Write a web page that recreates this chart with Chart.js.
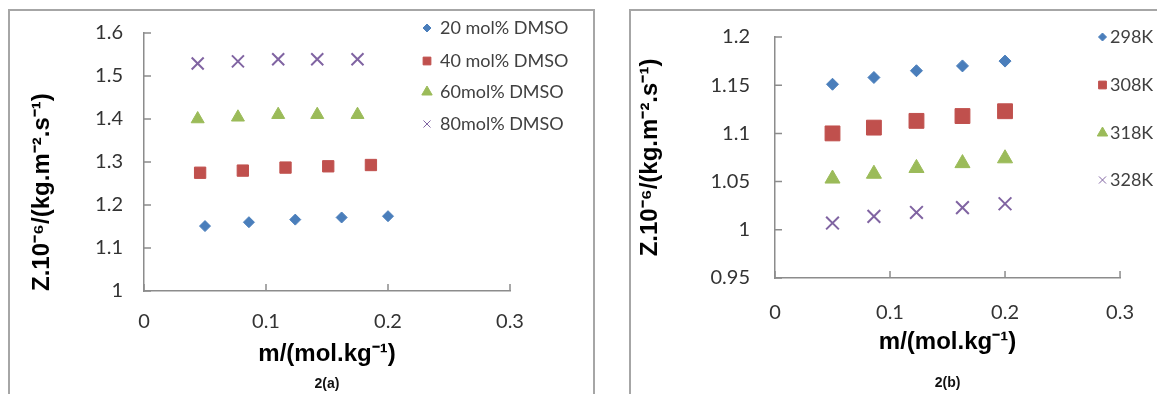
<!DOCTYPE html>
<html>
<head>
<meta charset="utf-8">
<script src="https://cdn.jsdelivr.net/npm/chart.js@4.4.1/dist/chart.umd.min.js"></script>
<style>
  html, body { margin: 0; padding: 0; background: #fff; overflow: hidden; }
  body { width: 1157px; height: 394px; position: relative; }
  .frame { position: absolute; border: 2px solid #a6a6a6; box-sizing: border-box; }
  #frameA { left: 8px; top: 9px; width: 587px; height: 420px; }
  #frameB { left: 629px; top: 9px; width: 560px; height: 420px; }
  canvas { position: absolute; top: 0; }
  #chartA { left: 0; }
  #chartB { left: 600px; }
</style>
</head>
<body>
<div class="frame" id="frameA"></div>
<div class="frame" id="frameB"></div>
<canvas id="chartA" width="600" height="394"></canvas>
<canvas id="chartB" width="557" height="394"></canvas>
<script>
// tick labels
const xTicks = [0, 0.1, 0.2, 0.3];
const yTicksA = [1, 1.1, 1.2, 1.3, 1.4, 1.5, 1.6];
const yTicksB = [0.95, 1, 1.05, 1.1, 1.15, 1.2];

// 2(a): solvent composition series
const seriesA = ['20 mol% DMSO', '40 mol% DMSO', '60mol% DMSO', '80mol% DMSO'];
const x20 = [0.050, 0.086, 0.124, 0.162, 0.200];
const y20 = [1.151, 1.160, 1.166, 1.171, 1.174];
const x40 = [0.046, 0.081, 0.116, 0.151, 0.186];
const y40 = [1.275, 1.280, 1.287, 1.290, 1.293];
const x60 = [0.044, 0.077, 0.110, 0.142, 0.175];
const y60 = [1.400, 1.404, 1.410, 1.410, 1.410];
const x80 = [0.044, 0.077, 0.110, 0.142, 0.175];
const y80 = [1.529, 1.534, 1.539, 1.539, 1.539];

// 2(b): temperature series
const seriesB = ['298K', '308K', '318K', '328K'];
const xB = [0.050, 0.086, 0.123, 0.163, 0.200];
const y298 = [1.151, 1.158, 1.165, 1.170, 1.175];
const y308 = [1.100, 1.106, 1.113, 1.118, 1.123];
const y318 = [1.053, 1.058, 1.064, 1.069, 1.074];
const y328 = [1.007, 1.014, 1.018, 1.023, 1.027];

const colors = ['#4a7ebb', '#c0504d', '#9bbb59', '#8064a2'];
const shapes = ['rectRot', 'rect', 'triangle', 'crossRot'];
const axisColor = '#8c8c8c';
const tickColor = '#333333';
const tickFont = { family: 'Lato, "Open Sans", sans-serif', size: 20 };
const titleFont = { family: '"Liberation Sans", Arial, sans-serif', size: 24, weight: 'bold' };
const capFont = { family: '"Liberation Sans", Arial, sans-serif', size: 14, weight: 'bold' };

// excel drops trailing zeros: 1, 1.1, 0.95
const fmt = v => String(Number(v.toFixed(2)));

function pts(xs, ys) {
  return xs.map((x, i) => ({ x: x, y: ys[i] }));
}

function makeSets(names, xs, ys, radii) {
  return names.map((name, i) => ({
    label: name,
    data: pts(xs[i], ys[i]),
    pointStyle: shapes[i],
    pointRadius: radii[i],
    pointHoverRadius: radii[i],
    backgroundColor: colors[i],
    borderColor: colors[i],
    borderWidth: shapes[i] === 'crossRot' ? 2 : 1,
    showLine: false
  }));
}

// excel style tick marks pointing into the plot
const innerTicks = {
  id: 'innerTicks',
  beforeDatasetsDraw(chart) {
    const { ctx, chartArea: a, scales: { x, y } } = chart;
    ctx.save();
    ctx.strokeStyle = axisColor;
    ctx.lineWidth = 1.5;
    ctx.beginPath();
    y.ticks.forEach(t => {
      const p = y.getPixelForValue(t.value);
      ctx.moveTo(a.left, p);
      ctx.lineTo(a.left + 7, p);
    });
    x.ticks.forEach(t => {
      const p = x.getPixelForValue(t.value);
      ctx.moveTo(p, a.bottom);
      ctx.lineTo(p, a.bottom - 7);
    });
    ctx.stroke();
    ctx.restore();
  }
};

// legend sitting over the top right of the plot
const sideLegend = {
  id: 'sideLegend',
  afterDraw(chart, args, opts) {
    const ctx = chart.ctx;
    ctx.save();
    ctx.textBaseline = 'middle';
    ctx.textAlign = 'left';
    ctx.font = '18px Lato, "Open Sans", sans-serif';
    chart.data.datasets.forEach((ds, i) => {
      const y = opts.rows[i];
      ctx.fillStyle = ds.backgroundColor;
      ctx.strokeStyle = ds.borderColor;
      ctx.lineWidth = 1;
      Chart.helpers.drawPoint(ctx, { pointStyle: ds.pointStyle, radius: opts.radius[i], borderWidth: 1, rotation: 0 }, opts.markX, y);
      ctx.fillStyle = '#404040';
      ctx.fillText(ds.label, opts.textX, y);
    });
    ctx.restore();
  }
};

function makeChart(id, cfg) {
  return new Chart(document.getElementById(id), {
    type: 'scatter',
    data: { datasets: cfg.datasets },
    options: {
      responsive: false,
      animation: false,
      events: [],
      layout: { padding: cfg.padding },
      plugins: {
        legend: { display: false },
        tooltip: { enabled: false },
        title: { display: true, fullSize: false, position: 'bottom', text: cfg.caption, font: capFont, color: '#111', padding: 0 },
        sideLegend: cfg.legend
      },
      scales: {
        x: {
          type: 'linear',
          min: 0, max: 0.3,
          afterBuildTicks: s => { s.ticks = xTicks.map(v => ({ value: v })); },
          afterFit: s => { s.height = cfg.xHeight; },
          grid: { display: true, drawOnChartArea: false, drawTicks: false },
          border: { color: axisColor, width: 1.5 },
          ticks: { font: tickFont, color: tickColor, padding: cfg.xPad, maxRotation: 0, callback: fmt },
          title: { display: true, text: 'm/(mol.kg⁻¹)', font: titleFont, color: '#000', padding: { top: 0, bottom: cfg.xTitlePad } }
        },
        y: {
          type: 'linear',
          min: cfg.yTicks[0], max: cfg.yTicks[cfg.yTicks.length - 1],
          afterBuildTicks: s => { s.ticks = cfg.yTicks.map(v => ({ value: v })); },
          afterFit: s => { s.width = cfg.yWidth; },
          grid: { display: true, drawOnChartArea: false, drawTicks: false },
          border: { color: axisColor, width: 1.5 },
          ticks: { font: tickFont, color: tickColor, padding: cfg.yPad, callback: fmt },
          title: { display: true, text: 'Z.10⁻⁶/(kg.m⁻².s⁻¹)', align: cfg.yAlign, font: titleFont, color: '#000', padding: { top: cfg.yTitlePad, bottom: 0 } }
        }
      }
    },
    plugins: [innerTicks, sideLegend]
  });
}

makeChart('chartA', {
  datasets: makeSets(seriesA, [x20, x40, x60, x80], [y20, y40, y60, y80], [5.5, 8, 7.5, 8.5]),
  yTicks: yTicksA,
  padding: { left: 0, right: 90, top: 32, bottom: 1.6 },
  xHeight: 84.6, xPad: 19, xTitlePad: 7.2,
  yWidth: 144, yPad: 21, yTitlePad: 27.6, yAlign: 'start',
  caption: '2(a)',
  legend: { markX: 427, textX: 440, rows: [28, 61, 92, 124], radius: [4, 5.5, 6, 5] }
});

makeChart('chartB', {
  datasets: makeSets(seriesB, [xB, xB, xB, xB], [y298, y308, y318, y328], [6, 10.5, 8.7, 9]),
  yTicks: yTicksB,
  padding: { left: 0, right: 22, top: 29, bottom: 2.6 },
  xHeight: 96.6, xPad: 23, xTitlePad: 18.2,
  yWidth: 175, yPad: 25, yTitlePad: 35.6, yAlign: 'center',
  caption: '2(b)',
  legend: { markX: 502.5, textX: 510, rows: [37, 85, 133, 180], radius: [4, 5.5, 6, 5] }
});
</script>
</body>
</html>
